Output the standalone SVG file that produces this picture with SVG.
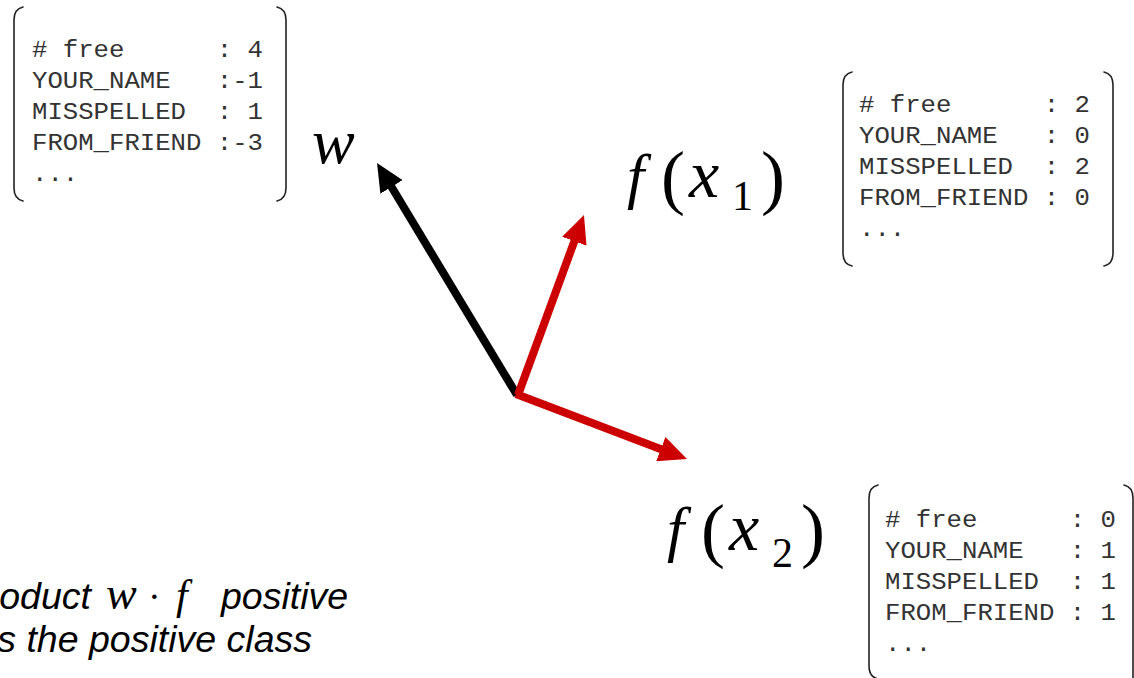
<svg xmlns="http://www.w3.org/2000/svg" width="1134" height="678" viewBox="0 0 1134 678">
<style>
.bk{fill:none;stroke:#222;stroke-width:1.6;stroke-linecap:round}
.mono{font-family:"Liberation Mono","DejaVu Sans Mono",monospace;font-size:23px;fill:#333}
.math{font-family:"Liberation Serif","DejaVu Serif",serif;fill:#000}
.mi{font-style:italic}
.cap{font-family:"Liberation Sans",Arial,sans-serif;font-style:italic;font-size:37.5px;fill:#000}
.arrow{fill:none;stroke-width:8;stroke-linecap:butt}
</style>
<defs>
<marker id="hb" viewBox="0 0 28 26" refX="6" refY="13" markerWidth="28" markerHeight="26" markerUnits="userSpaceOnUse" orient="auto"><path d="M0,0 L28,13 L0,26 z" fill="#000"/></marker>
<marker id="hr" viewBox="0 0 28 26" refX="6" refY="13" markerWidth="28" markerHeight="26" markerUnits="userSpaceOnUse" orient="auto"><path d="M0,0 L28,13 L0,26 z" fill="#cc0000"/></marker>
</defs>
<rect width="1134" height="678" fill="#fff"/>

<g id="connectors">
<line class="arrow" x1="517" y1="395" x2="388.4" y2="181.8" stroke="#000" marker-end="url(#hb)"/>
<line class="arrow" x1="518" y1="395" x2="576.4" y2="235.6" stroke="#cc0000" marker-end="url(#hr)"/>
<line class="arrow" x1="516" y1="394" x2="666.4" y2="451.2" stroke="#cc0000" marker-end="url(#hr)"/>
</g>

<g id="w-vector-box">
<path class="bk" d="M23,7 Q14,9 14,20 L14,188 Q14,199 23,201"/>
<path class="bk" d="M277,7 Q286,9 286,20 L286,188 Q286,199 277,201"/>
<g transform="translate(32 0) scale(1.116 1)">
<text class="mono" x="0" y="57" xml:space="preserve"># free      : 4</text>
<text class="mono" x="0" y="88" xml:space="preserve">YOUR_NAME   :-1</text>
<text class="mono" x="0" y="119" xml:space="preserve">MISSPELLED  : 1</text>
<text class="mono" x="0" y="150" xml:space="preserve">FROM_FRIEND :-3</text>
<text class="mono" x="0" y="181" xml:space="preserve">...</text>
</g>
</g>

<g id="x1-feature-box">
<path class="bk" d="M852,72 Q843,74 843,85 L843,253 Q843,264 852,266"/>
<path class="bk" d="M1104,72 Q1113,74 1113,85 L1113,253 Q1113,264 1104,266"/>
<g transform="translate(859 0) scale(1.116 1)">
<text class="mono" x="0" y="112" xml:space="preserve"># free      : 2</text>
<text class="mono" x="0" y="143" xml:space="preserve">YOUR_NAME   : 0</text>
<text class="mono" x="0" y="174" xml:space="preserve">MISSPELLED  : 2</text>
<text class="mono" x="0" y="205" xml:space="preserve">FROM_FRIEND : 0</text>
<text class="mono" x="0" y="236" xml:space="preserve">...</text>
</g>
</g>

<g id="x2-feature-box">
<path class="bk" d="M878,485 Q869,487 869,498 L869,666 Q869,677 878,679"/>
<path class="bk" d="M1124,485 Q1133,487 1133,498 L1133,680"/>
<g transform="translate(885 0) scale(1.116 1)">
<text class="mono" x="0" y="527" xml:space="preserve"># free      : 0</text>
<text class="mono" x="0" y="558" xml:space="preserve">YOUR_NAME   : 1</text>
<text class="mono" x="0" y="589" xml:space="preserve">MISSPELLED  : 1</text>
<text class="mono" x="0" y="620" xml:space="preserve">FROM_FRIEND : 1</text>
<text class="mono" x="0" y="651" xml:space="preserve">...</text>
</g>
</g>

<g id="label-w">
<text class="math mi" x="312" y="163" font-size="64">w</text>
</g>

<g id="label-fx1">
<text class="math" font-size="62" y="197"><tspan class="mi" x="627">f</tspan><tspan x="661" font-size="72" dy="4">(</tspan><tspan class="mi" x="689" dy="-4" font-size="68">x</tspan><tspan x="732" font-size="42" dy="13">1</tspan><tspan x="761" font-size="72" dy="-9">)</tspan></text>
</g>

<g id="label-fx2">
<text class="math" font-size="62" y="550"><tspan class="mi" x="667">f</tspan><tspan x="701" font-size="72" dy="4">(</tspan><tspan class="mi" x="729" dy="-4" font-size="68">x</tspan><tspan x="772" font-size="42" dy="17">2</tspan><tspan x="801" font-size="72" dy="-13">)</tspan></text>
</g>

<g id="caption">
<text class="cap" x="91" y="609" text-anchor="end">oduct</text>
<text class="math mi" x="106" y="609" font-size="46">w</text>
<text class="math" x="148" y="609" font-size="38">·</text>
<text class="math mi" x="176" y="609" font-size="42">f</text>
<text class="cap" x="221" y="609">positive</text>
<text class="cap" x="312" y="652" text-anchor="end">s the positive class</text>
</g>
</svg>
